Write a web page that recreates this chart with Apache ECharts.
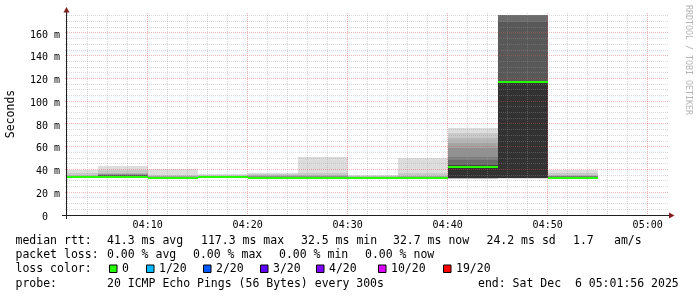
<!DOCTYPE html>
<html><head><meta charset="utf-8">
<script src="https://cdn.jsdelivr.net/npm/echarts@6/dist/echarts.min.js"></script>
<style>html,body{margin:0;padding:0;background:#fff}#c{width:697px;height:297px}</style>
</head><body><div id="c"></div>
<script>
// ---------------- data ----------------
const graphStart = '04:01:56';
const graphEnd = '05:01:56';
const stepMinutes = 5;
const intervalStarts = ['04:00','04:05','04:10','04:15','04:20','04:25','04:30','04:35','04:40','04:45','04:50'];
const medianRtt = [33.3, 33.6, 32.5, 33.0, 32.8, 32.7, 32.8, 32.7, 42.5, 117.3, 32.7];
// 20 sorted ping RTTs (ms) per 5-minute step, read from the smoke
const pings0400 = [32.6,32.7,32.8,32.8,32.9,32.9,33.0,33.1,33.2,33.3,33.4,33.5,33.6,33.8,34.0,34.2,34.6,35.2,37.2,39.6];
const pings0405 = [32.8,32.9,33.0,33.1,33.2,33.3,33.4,33.5,33.6,33.6,34.4,34.6,34.8,35.0,35.3,35.7,36.3,37.2,39.6,43.1];
const pings0410 = [32.1,32.2,32.2,32.3,32.3,32.4,32.4,32.5,32.5,32.6,32.9,33.0,33.1,33.3,33.5,33.7,34.0,34.4,35.2,40.1];
const pings0415 = [32.5,32.6,32.6,32.7,32.7,32.8,32.8,32.9,32.9,33.0,33.1,33.2,33.3,33.4,33.6,33.8,34.0,34.4,35.0,36.0];
const pings0420 = [32.3,32.4,32.5,32.5,32.6,32.6,32.7,32.7,32.8,32.8,32.9,33.0,33.2,33.4,33.6,33.9,34.3,34.8,35.6,37.2];
const pings0425 = [32.2,32.3,32.4,32.4,32.5,32.5,32.6,32.6,32.7,32.7,32.8,33.0,33.2,33.4,33.7,34.0,34.4,35.0,36.6,51.2];
const pings0430 = [32.4,32.5,32.5,32.6,32.6,32.7,32.7,32.8,32.8,32.8,32.9,33.0,33.1,33.2,33.4,33.6,33.8,34.1,34.4,35.2];
const pings0435 = [32.3,32.4,32.4,32.5,32.5,32.6,32.6,32.7,32.7,32.7,32.8,32.9,33.0,33.2,33.4,33.7,34.0,34.5,36.6,49.8];
const pings0440 = [31.9,32.0,32.0,32.1,32.1,32.2,32.2,32.3,32.3,32.4,43.2,43.6,44.0,48.4,51.3,58.6,63.0,67.4,71.8,76.2];
const pings0445 = [32.0,32.2,32.3,32.4,32.5,32.5,32.6,32.6,32.7,32.8,117.6,118.0,170.0,175.8,175.8,175.8,175.8,175.8,175.8,175.8];
const pings0450 = [32.3,32.4,32.4,32.5,32.5,32.6,32.6,32.7,32.7,32.7,32.9,33.1,33.3,33.6,33.9,34.2,34.6,35.4,36.6,39.6];
const yMax = 175.8;
const xTickLabels = ['04:10','04:20','04:30','04:40','04:50','05:00'];
const yTickValues = [0,20,40,60,80,100,120,140,160];
const yTickLabels = ['0  ','20 m','40 m','60 m','80 m','100 m','120 m','140 m','160 m'];
const lossLabels = ['0','1/20','2/20','3/20','4/20','10/20','19/20'];
const lossColors = ['#26ff00','#00b8ff','#0059ff','#5e00ff','#7e00ff','#dd00ff','#ff0000'];
const medianStats = ['41.3 ms avg','117.3 ms max','32.5 ms min','32.7 ms now','24.2 ms sd','1.7','am/s'];
const lossStats = ['0.00 % avg','0.00 % max','0.00 % min','0.00 % now'];
const probeText = '20 ICMP Echo Pings (56 Bytes) every 300s';
const endText = 'end: Sat Dec  6 05:01:56 2025';

// ---------------- build ----------------
const barPings = [pings0400,pings0405,pings0410,pings0415,pings0420,pings0425,pings0430,pings0435,pings0440,pings0445,pings0450];
function tmin(s){const a=s.split(':').map(Number);return a[0]*60+a[1]+(a[2]||0)/60;}
const X_MIN = tmin(graphStart), X_MAX = tmin(graphEnd);
const xTickValues = xTickLabels.map(tmin);

const smokeData = [];
barPings.forEach((p,b)=>{
  const s = tmin(intervalStarts[b]);
  for(let i=0;i<10;i++) smokeData.push([s, s+stepMinutes, p[i], p[19-i], i]);
});
const medianData = medianRtt.map((m,b)=>{const s=tmin(intervalStarts[b]);return [s, s+stepMinutes, m];});
function smokeGrey(i){const g=Math.floor(190/10*(9-i))+50;const h=g.toString(16).padStart(2,'0');return '#'+h+h+h;}

const MONO = "'DejaVu Sans Mono', monospace";
const chart = echarts.init(document.getElementById('c'), null, {renderer:'canvas'});

const GRID = {left:67, top:15, width:600, height:200};

function renderSmoke(params, api){
  const s = Math.max(api.value(0), X_MIN), e = Math.min(api.value(1), X_MAX);
  if (e <= s) return null;
  const p1 = api.coord([s, api.value(3)]), p2 = api.coord([e, api.value(2)]);
  const x1 = Math.round(p1[0]), x2 = Math.round(p2[0]);
  const y1 = Math.round(p1[1]), y2 = Math.round(p2[1]);
  if (y2 - y1 <= 0) return null;
  return {type:'rect', shape:{x:x1,y:y1,width:x2-x1,height:y2-y1}, style:{fill:smokeGrey(api.value(4))}, z2:api.value(4)};
}
function renderMedian(params, api){
  const s = Math.max(api.value(0), X_MIN), e = Math.min(api.value(1), X_MAX);
  const p1 = api.coord([s, api.value(2)]), p2 = api.coord([e, api.value(2)]);
  const x1 = Math.round(p1[0]), x2 = Math.round(p2[0]);
  const yc = Math.round(p1[1]);
  return {type:'rect', shape:{x:x1,y:yc-1,width:x2-x1,height:2}, style:{fill:lossColors[0]}};
}
function renderGrid(params, api){
  const cs = params.coordSys;
  const top = cs.y, bottom = cs.y + cs.height, left = cs.x, right = cs.x + cs.width;
  const children = [];
  const minorC = 'rgba(150,150,150,0.36)', majorC = 'rgba(222,79,79,0.42)';
  function vline(t, c){const x=Math.floor(api.coord([t,0])[0])+0.5;
    children.push({type:'line',shape:{x1:x,y1:top-2,x2:x,y2:bottom+2},style:{stroke:c,lineWidth:1,lineDash:[1,1]}});}
  function hline(v, c){const y=Math.floor(api.coord([X_MIN,v])[1])+0.5;
    children.push({type:'line',shape:{x1:left-2,y1:y,x2:right+2,y2:y},style:{stroke:c,lineWidth:1,lineDash:[1,1]}});}
  for (let t = Math.ceil(X_MIN/2)*2; t <= X_MAX; t += 2) { if (t % 10 !== 0) vline(t, minorC); }
  for (let v = 5; v <= yMax; v += 5) { if (v % 20 !== 0) hline(v, minorC); }
  xTickValues.forEach(t=>vline(t, majorC));
  yTickValues.forEach(v=>{ if (v>0) hline(v, majorC); });
  return {type:'group', children};
}

const textStyle = (text, x, y, extra) => Object.assign({type:'text', x, y, style:{text, font:"11.5px "+MONO, fill:'#000', verticalAlign:'middle', align:'left'}}, extra||{});

const legendBoxX = [109.5, 146.5, 203.5, 260.5, 316.5, 378.5, 443.5];
const medianStatX = [107, 201, 301, 393, 486.5, 573, 614];
const lossStatX = [107, 193, 279, 365];
const graphics = [];
graphics.push({type:'line', shape:{x1:66.5,y1:219,x2:66.5,y2:11}, style:{stroke:'#202020',lineWidth:1}, z:100});
graphics.push({type:'line', shape:{x1:62,y1:215.5,x2:670,y2:215.5}, style:{stroke:'#202020',lineWidth:1}, z:100});
graphics.push({type:'polygon', shape:{points:[[63.5,12.5],[69.5,12.5],[66.5,7]]}, style:{fill:'#801f1f'}, z:101});
graphics.push({type:'polygon', shape:{points:[[669,212.5],[669,218.5],[674.5,215.5]]}, style:{fill:'#801f1f'}, z:101});
graphics.push({type:'text', x:11, y:114, rotation:Math.PI/2, style:{text:'Seconds', font:"11.5px "+MONO, fill:'#000', align:'center', verticalAlign:'middle'}});
graphics.push({type:'text', x:688, y:60, rotation:-Math.PI/2, style:{text:'RRDTOOL / TOBI OETIKER', font:"8.3px "+MONO, fill:'#b4b4b4', align:'center', verticalAlign:'middle'}});
graphics.push(textStyle('median rtt:', 15.5, 241));
medianStats.forEach((s,i)=>graphics.push(textStyle(s, medianStatX[i], 241)));
graphics.push(textStyle('packet loss:', 15.5, 255.5));
lossStats.forEach((s,i)=>graphics.push(textStyle(s, lossStatX[i], 255.5)));
graphics.push(textStyle('loss color:', 15.5, 269.5));
lossLabels.forEach((s,i)=>{
  graphics.push({type:'rect', shape:{x:legendBoxX[i], y:265, width:7.5, height:7.5}, style:{fill:lossColors[i], stroke:'#000', lineWidth:1}});
  graphics.push(textStyle(s, legendBoxX[i]+12.5, 269.5));
});
graphics.push(textStyle('probe:', 15.5, 284));
graphics.push(textStyle(probeText, 107, 284));
graphics.push(textStyle(endText, 478, 284));

chart.setOption({
  animation:false,
  backgroundColor:'#ffffff',
  grid:GRID,
  xAxis:{type:'value', min:X_MIN, max:X_MAX,
    axisLine:{show:false}, axisTick:{show:false}, splitLine:{show:false},
    axisLabel:{customValues:xTickValues, fontFamily:MONO, fontSize:10, color:'#000', margin:5,
      formatter:v=>{const i=xTickValues.findIndex(t=>Math.abs(t-v)<1e-6);return i>=0?xTickLabels[i]:'';}}},
  yAxis:{type:'value', min:0, max:yMax, interval:20,
    axisLine:{show:false}, axisTick:{show:false}, splitLine:{show:false},
    axisLabel:{fontFamily:MONO, fontSize:10, color:'#000', margin:7, showMaxLabel:false,
      rich:{a:{fontFamily:MONO, fontSize:10, color:'#000', padding:[4,0,0,0]}},
      formatter:v=>{const i=yTickValues.findIndex(t=>Math.abs(t-v)<1e-6);return i>=0?'{a|'+yTickLabels[i]+'}':'';}}},
  series:[
    {type:'custom', name:'smoke', z:2, renderItem:renderSmoke, data:smokeData, encode:{x:[0,1], y:[2,3]}, silent:true},
    {type:'custom', name:'grid', z:3, renderItem:renderGrid, data:[[X_MIN,0]], encode:{x:0,y:1}, silent:true},
    {type:'custom', name:'median', z:4, renderItem:renderMedian, data:medianData, encode:{x:[0,1], y:2}, silent:true}
  ],
  graphic:graphics
});
</script></body></html>
